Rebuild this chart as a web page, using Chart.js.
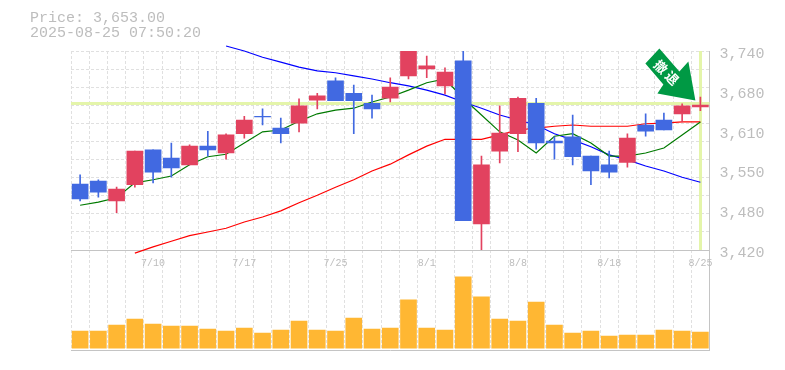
<!DOCTYPE html>
<html>
<head>
<meta charset="utf-8">
<script src="https://cdn.jsdelivr.net/npm/chart.js@4"></script>
<style>
  html, body { margin: 0; padding: 0; background: #fff; overflow: hidden; }
  #priceChart, #volumeChart { position: absolute; left: 0; }
  #volumeChart { top: 250px; }
  #priceChart { top: 0; }
</style>
</head>
<body>
<canvas id="volumeChart" width="785" height="101"></canvas>
<canvas id="priceChart" width="785" height="270"></canvas>
<script>
var dates = ['7/4','7/7','7/8','7/9','7/10','7/11','7/14','7/15','7/16','7/17','7/18','7/22','7/23','7/24','7/25','7/28','7/29','7/30','7/31','8/1','8/4','8/5','8/6','8/7','8/8','8/12','8/13','8/14','8/15','8/18','8/19','8/20','8/21','8/22','8/25'];
var opens  = [3526,3531,3499,3525,3581,3568,3557,3587,3576,3607,3635,3616,3624,3661,3692,3672,3656,3664,3700,3711,3684,3724,3462,3579,3607,3656,3595,3602,3571,3557,3561,3621,3629,3639,3650];
var highs  = [3541,3533,3521,3579,3581,3592,3589,3611,3607,3635,3647,3632,3663,3672,3697,3685,3669,3697,3740,3732,3713,3740,3571,3652,3666,3664,3602,3637,3571,3579,3607,3639,3640,3655,3666];
var lows   = [3499,3505,3480,3521,3528,3537,3557,3571,3566,3600,3621,3592,3610,3647,3660,3607,3632,3658,3695,3697,3671,3467,3420,3560,3578,3582,3566,3557,3525,3536,3553,3603,3613,3626,3644];
var closes = [3502,3513,3518,3579,3545,3552,3587,3581,3605,3629,3634,3607,3652,3668,3660,3660,3647,3682,3740,3716,3706,3467,3557,3608,3664,3592,3592,3570,3547,3545,3600,3611,3613,3652,3653];
var volumes = [170,170,230,290,240,220,220,190,170,200,150,180,270,180,170,300,190,200,480,200,180,710,510,290,270,460,230,150,170,120,130,130,180,170,160];
var maShort = [3492,3497,3504,3528,3533,3539,3557,3570,3574,3592,3610,3613,3627,3639,3645,3648,3658,3666,3677,3689,3695,3664,3637,3610,3597,3576,3603,3607,3592,3571,3571,3576,3584,3605,3626];
var maMid = [null,null,null,3415,3425,3434,3443,3449,3455,3465,3473,3483,3496,3508,3521,3533,3547,3558,3573,3587,3598,3598,3598,3605,3613,3616,3619,3621,3619,3619,3619,3623,3624,3626,3626];
var maLong = [null,null,null,null,null,null,null,null,3748,3740,3730,3722,3714,3708,3705,3700,3695,3689,3684,3677,3669,3658,3648,3637,3629,3621,3607,3597,3586,3573,3565,3555,3547,3537,3529];
var yTickValues = [3420,3484,3548,3612,3676,3740];
var yTickLabels = ['3,420','3,480','3,550','3,610','3,680','3,740'];
var currentPrice = 3654;
var titleLines = ['Price: 3,653.00','2025-08-25 07:50:20'];
var signalText = ['撤','退'];

var RED = '#e2425f', BLUE = '#4169e1', GRID = '#e0e0e0', AXIS = '#c4c4c4', TEXT = '#bdbdbd', MARK = '#e4f5aa';
var candleColors = closes.map(function(c, i) { return c >= opens[i] ? RED : BLUE; });

function zip(a, b) { return a.map(function(v, i) { return [v, b[i]]; }); }

var overlay = {
  id: 'overlay',
  beforeDatasetsDraw: function(chart) {
    var c = chart.ctx, area = chart.chartArea;
    var px = chart.scales.x.getPixelForValue(dates.length - 1);
    var py = chart.scales.y.getPixelForValue(currentPrice);
    c.save();
    c.fillStyle = MARK;
    c.fillRect(area.left, Math.round(py) - 2, area.right - area.left, 3);
    c.fillRect(Math.round(px) - 1, area.top, 3, area.bottom - area.top);
    c.restore();
  },
  afterDatasetsDraw: function(chart) {
    var c = chart.ctx;
    var px = chart.scales.x.getPixelForValue(dates.length - 1);
    var py = chart.scales.y.getPixelForValue(currentPrice);
    // arrow hangs off the last candle
    var shape = [[-5,-4],[-12,-43],[-21,-33],[-41,-56],[-55,-41],[-37,-20],[-43,-11]];
    c.save();
    c.fillStyle = '#009944';
    c.beginPath();
    shape.forEach(function(p, i) {
      if (i == 0) c.moveTo(px + p[0], py + p[1]); else c.lineTo(px + p[0], py + p[1]);
    });
    c.closePath();
    c.fill();
    c.translate(px - 34, py - 32);
    c.rotate(Math.PI / 4);
    c.fillStyle = '#fff';
    c.font = 'bold 13px "Noto Sans CJK JP"';
    c.textAlign = 'center';
    c.textBaseline = 'middle';
    c.fillText(signalText[0], -8, 0);
    c.fillText(signalText[1], 8, 0);
    c.restore();
  },
  afterDraw: function(chart) {
    var c = chart.ctx;
    c.save();
    c.fillStyle = TEXT;
    c.font = '15px "Liberation Mono"';
    c.textBaseline = 'middle';
    c.fillText(titleLines[0], 30, 18);
    c.fillText(titleLines[1], 30, 33);
    c.restore();
  }
};

new Chart(document.getElementById('priceChart').getContext('2d'), {
  type: 'bar',
  data: {
    labels: dates,
    datasets: [
      { type: 'line', data: maLong, borderColor: '#0000ff', borderWidth: 1.2, pointRadius: 0, clip: false, order: 5 },
      { type: 'line', data: maMid, borderColor: '#ff0000', borderWidth: 1.2, pointRadius: 0, clip: false, order: 4 },
      { type: 'line', data: maShort, borderColor: '#007a00', borderWidth: 1.2, pointRadius: 0, clip: false, order: 3 },
      { data: zip(lows, highs), backgroundColor: candleColors, barThickness: 1, grouped: false, order: 2 },
      { data: zip(opens, closes), backgroundColor: candleColors, barThickness: 16, grouped: false, order: 1 }
    ]
  },
  plugins: [overlay],
  options: {
    responsive: false,
    animation: false,
    layout: { padding: { left: 71, top: 51, right: 0, bottom: 0 } },
    plugins: { legend: { display: false }, tooltip: { enabled: false } },
    scales: {
      x: {
        afterFit: function(s) { s.height = 20; },
        border: { color: AXIS, dash: [3, 2] },
        grid: { color: GRID, drawTicks: false },
        ticks: {
          autoSkip: false, maxRotation: 0, padding: 7, color: TEXT,
          font: { family: '"Liberation Mono"', size: 10 },
          callback: function(v, i) { return i % 5 == 4 ? dates[i] : ''; }
        }
      },
      y: {
        position: 'right', min: 3420, max: 3740,
        afterFit: function(s) { s.width = 0; },
        border: { display: false, dash: [3, 2] },
        grid: { color: GRID, drawTicks: false },
        ticks: { display: false, count: 12 }
      },
      yLabels: {
        position: 'right', min: 3420, max: 3740,
        afterFit: function(s) { s.width = 75.5; },
        // printed labels sit a little under their true height
        afterBuildTicks: function(s) {
          s.ticks = yTickValues.map(function(v) { return { value: v - 5 }; });
        },
        border: { color: AXIS },
        grid: { display: false, drawTicks: false },
        ticks: {
          padding: 10, color: TEXT,
          font: { family: '"Liberation Mono"', size: 15 },
          callback: function(v, i) { return yTickLabels[i]; }
        }
      }
    }
  }
});

new Chart(document.getElementById('volumeChart').getContext('2d'), {
  type: 'bar',
  data: {
    labels: dates,
    datasets: [{ data: volumes, backgroundColor: '#ffb733', barThickness: 16 }]
  },
  options: {
    responsive: false,
    animation: false,
    layout: { padding: { left: 71, right: 75.5, top: 0, bottom: 0.5 } },
    plugins: { legend: { display: false }, tooltip: { enabled: false } },
    scales: {
      x: {
        afterFit: function(s) { s.height = 0; },
        border: { color: AXIS, dash: [3, 2] },
        grid: { color: GRID, drawTicks: false },
        ticks: { display: false }
      },
      y: {
        position: 'right', min: -23, max: 977,
        afterFit: function(s) { s.width = 0; },
        border: { color: AXIS },
        grid: { display: false, drawTicks: false },
        ticks: { display: false }
      }
    }
  }
});
</script>
</body>
</html>
